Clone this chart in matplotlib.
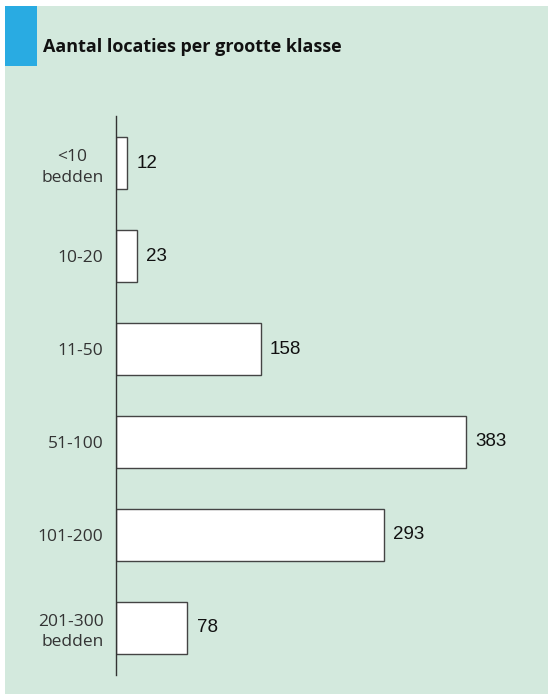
import matplotlib
matplotlib.use("Agg")
import matplotlib.pyplot as plt
from matplotlib.patches import Rectangle

# locations per size class (number of beds)
klassen = ["<10\nbedden", "10-20", "11-50", "51-100", "101-200", "201-300\nbedden"]
aantallen = [12, 23, 158, 383, 293, 78]
titel = "Aantal locaties per grootte klasse"

W, H = 548, 694
fig = plt.figure(figsize=(W / 100, H / 100), dpi=100)
fig.patch.set_facecolor("white")

# green panel with blue marker in the corner
fig.patches.append(Rectangle((5 / W, 0), 1 - 5 / W, 1 - 6 / H,
                             transform=fig.transFigure, facecolor="#d3e9dd",
                             edgecolor="none", zorder=-2))
fig.patches.append(Rectangle((5 / W, 1 - 66 / H), 32 / W, 60 / H,
                             transform=fig.transFigure, facecolor="#29abe2",
                             edgecolor="none", zorder=-1))
fig.text(43 / W, 1 - 52 / H, titel, fontsize=13, fontweight="bold",
         family="Open Sans", color="#111111", va="baseline", ha="left")

ax = fig.add_axes([116 / W, 19 / H, (W - 116) / W, (675 - 116) / H])
ax.set_facecolor("none")
ax.set_zorder(5)

y = range(len(klassen))
bars = ax.barh(y, aantallen, height=0.56, color="white",
               edgecolor="#444444", linewidth=1.0)
for b, v in zip(bars, aantallen):
    ax.text(b.get_width() + 10, b.get_y() + b.get_height() / 2, str(v),
            va="center", ha="left", fontsize=13.5, family="Liberation Sans",
            color="#111111")

ax.set_xlim(0, (W - 116) / 0.915)
ax.set_ylim(5.51, -0.51)
ax.set_yticks(list(y))
labels = ax.set_yticklabels(klassen, family="Open Sans", fontsize=12.5,
                            color="#333333", multialignment="center",
                            linespacing=1.35)
labels[-1].set_multialignment("right")
ax.tick_params(axis="y", length=0, pad=9)
ax.set_xticks([])
for s in ["top", "right", "bottom"]:
    ax.spines[s].set_visible(False)
ax.spines["left"].set_color("#333333")
ax.spines["left"].set_linewidth(1.0)

fig.savefig("out.png", dpi=100)
